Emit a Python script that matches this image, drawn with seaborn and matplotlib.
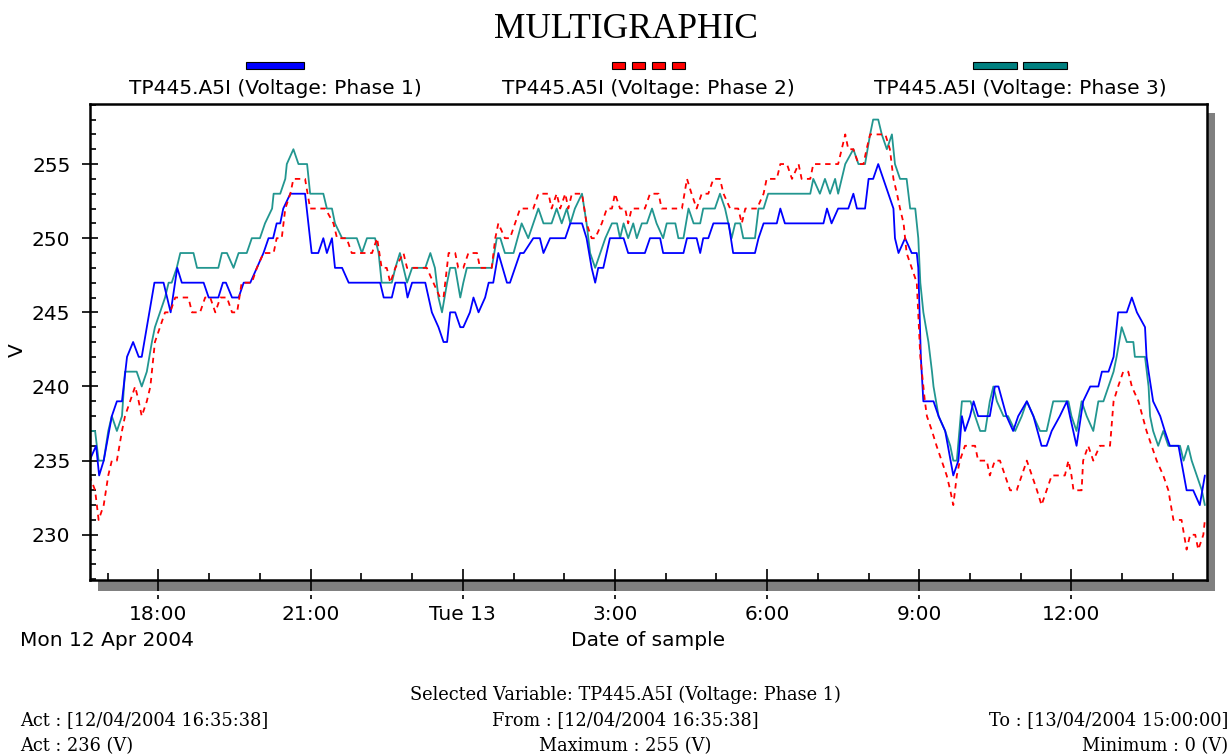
import matplotlib
matplotlib.use("Agg")
import matplotlib.pyplot as plt
from matplotlib.patches import Rectangle
from matplotlib.ticker import MultipleLocator
import pandas as pd
import seaborn as sns

# ---- sample times (hours counted from 00:00 on Mon 12 Apr 2004) and voltages ----
p1_hours = [16.64, 16.77, 16.83, 16.92, 17.08, 17.18, 17.28, 17.38, 17.50, 17.61,
            17.67, 17.77, 17.92, 18.10, 18.24, 18.37, 18.46, 18.89, 18.99, 19.18,
            19.27, 19.33, 19.45, 19.58, 19.68, 19.81, 19.94, 20.07, 20.17, 20.26,
            20.33, 20.40, 20.46, 20.60, 20.89, 21.02, 21.15, 21.25, 21.32, 21.42,
            21.48, 21.62, 21.75, 22.37, 22.44, 22.60, 22.67, 22.86, 22.91, 23.00,
            23.26, 23.39, 23.52, 23.62, 23.69, 23.75, 23.85, 23.95, 24.01, 24.14,
            24.21, 24.31, 24.44, 24.51, 24.60, 24.70, 24.87, 24.93, 25.13, 25.20,
            25.39, 25.52, 25.59, 25.72, 26.02, 26.12, 26.35, 26.44, 26.54, 26.61,
            26.67, 26.77, 26.90, 27.17, 27.26, 27.59, 27.69, 27.89, 27.95, 28.35,
            28.42, 28.61, 28.68, 28.74, 28.84, 28.94, 29.24, 29.33, 29.76, 29.83,
            29.93, 30.19, 30.26, 30.35, 31.11, 31.18, 31.27, 31.40, 31.60, 31.70,
            31.77, 31.93, 32.00, 32.09, 32.19, 32.29, 32.39, 32.49, 32.52, 32.59,
            32.72, 32.85, 32.95, 32.98, 33.03, 33.08, 33.18, 33.28, 33.38, 33.51,
            33.67, 33.77, 33.84, 33.90, 34.00, 34.07, 34.16, 34.39, 34.49, 34.56,
            34.72, 34.85, 34.95, 35.12, 35.25, 35.41, 35.51, 35.61, 35.77, 35.91,
            35.97, 36.10, 36.23, 36.37, 36.53, 36.60, 36.73, 36.83, 36.92, 37.09,
            37.19, 37.29, 37.45, 37.48, 37.52, 37.61, 37.75, 37.84, 37.94, 38.11,
            38.27, 38.40, 38.53, 38.63]
p1_volts = [235, 236, 234, 235, 238, 239, 239, 242, 243, 242,
            242, 244, 247, 247, 245, 248, 247, 247, 246, 246,
            247, 247, 246, 246, 247, 247, 248, 249, 250, 250,
            251, 251, 252, 253, 253, 249, 249, 250, 249, 250,
            248, 248, 247, 247, 246, 246, 247, 247, 246, 247,
            247, 245, 244, 243, 243, 245, 245, 244, 244, 245,
            246, 245, 246, 247, 247, 249, 247, 247, 249, 249,
            250, 250, 249, 250, 250, 251, 251, 250, 248, 247,
            248, 248, 250, 250, 249, 249, 250, 250, 249, 249,
            250, 250, 249, 250, 250, 251, 251, 249, 249, 250,
            251, 251, 252, 251, 251, 252, 251, 252, 252, 253,
            252, 252, 254, 254, 255, 254, 253, 252, 250, 249,
            250, 249, 249, 248, 242, 239, 239, 239, 238, 237,
            234, 235, 238, 237, 238, 239, 238, 238, 240, 240,
            238, 237, 238, 239, 238, 236, 236, 237, 238, 239,
            238, 236, 239, 240, 240, 241, 241, 242, 245, 245,
            246, 245, 244, 242, 241, 239, 238, 237, 236, 236,
            233, 233, 232, 234]

p2_hours = [16.64, 16.75, 16.82, 16.92, 17.01, 17.08, 17.18, 17.28, 17.34, 17.44,
            17.54, 17.61, 17.67, 17.77, 17.84, 17.93, 18.03, 18.13, 18.23, 18.33,
            18.59, 18.66, 18.82, 18.92, 19.02, 19.12, 19.22, 19.35, 19.45, 19.55,
            19.64, 19.84, 19.94, 20.07, 20.27, 20.33, 20.43, 20.50, 20.60, 20.66,
            20.89, 20.99, 21.29, 21.45, 21.52, 21.71, 21.81, 22.21, 22.31, 22.40,
            22.50, 22.57, 22.67, 22.83, 22.90, 23.29, 23.55, 23.62, 23.72, 23.85,
            23.91, 24.01, 24.11, 24.28, 24.34, 24.57, 24.64, 24.70, 24.83, 24.93,
            25.03, 25.13, 25.39, 25.49, 25.69, 25.75, 25.85, 25.92, 26.02, 26.08,
            26.15, 26.35, 26.44, 26.54, 26.61, 26.74, 26.84, 26.94, 27.00, 27.10,
            27.20, 27.26, 27.33, 27.59, 27.69, 27.86, 27.92, 28.32, 28.42, 28.51,
            28.61, 28.71, 28.84, 28.94, 29.07, 29.14, 29.27, 29.43, 29.50, 29.57,
            29.80, 29.93, 29.99, 30.19, 30.26, 30.39, 30.49, 30.62, 30.68, 30.85,
            30.91, 31.40, 31.47, 31.54, 31.60, 31.70, 31.80, 31.90, 31.96, 32.03,
            32.33, 32.42, 32.49, 32.56, 32.62, 32.69, 32.75, 32.85, 32.95, 33.02,
            33.05, 33.11, 33.15, 33.25, 33.34, 33.44, 33.54, 33.61, 33.67, 33.74,
            33.80, 33.90, 34.10, 34.16, 34.33, 34.39, 34.49, 34.59, 34.69, 34.79,
            34.92, 35.02, 35.12, 35.22, 35.32, 35.41, 35.51, 35.61, 35.87, 35.94,
            36.00, 36.04, 36.20, 36.23, 36.33, 36.43, 36.56, 36.76, 36.83, 36.92,
            37.02, 37.12, 37.19, 37.32, 37.48, 37.58, 37.68, 37.81, 37.91, 38.01,
            38.17, 38.27, 38.34, 38.44, 38.50, 38.60, 38.63]
p2_volts = [234, 233, 231, 232, 234, 235, 235, 237, 238, 239,
            240, 239, 238, 239, 240, 243, 244, 245, 245, 246,
            246, 245, 245, 246, 246, 245, 246, 246, 245, 245,
            247, 247, 248, 249, 249, 250, 250, 252, 253, 254,
            254, 252, 252, 251, 250, 250, 249, 249, 250, 248,
            248, 247, 248, 249, 248, 248, 246, 246, 249, 249,
            248, 248, 249, 249, 248, 248, 250, 251, 250, 250,
            251, 252, 252, 253, 253, 252, 253, 252, 253, 252,
            253, 253, 251, 250, 250, 251, 252, 252, 253, 252,
            252, 251, 252, 252, 253, 253, 252, 252, 254, 253,
            252, 253, 253, 254, 254, 253, 252, 252, 251, 252,
            252, 253, 254, 254, 255, 255, 254, 255, 254, 254,
            255, 255, 256, 257, 256, 256, 255, 255, 256, 257,
            257, 256, 254, 253, 252, 251, 249, 248, 247, 242,
            241, 239, 238, 237, 236, 235, 234, 233, 232, 234,
            235, 236, 236, 235, 235, 234, 235, 235, 234, 233,
            233, 234, 235, 234, 233, 232, 233, 234, 234, 235,
            234, 233, 233, 235, 236, 235, 236, 236, 239, 240,
            241, 241, 240, 239, 237, 236, 235, 234, 233, 231,
            231, 229, 230, 230, 229, 230, 231]

p3_hours = [16.64, 16.75, 16.82, 16.92, 17.01, 17.08, 17.18, 17.28, 17.34, 17.57,
            17.67, 17.77, 17.87, 17.93, 18.03, 18.13, 18.20, 18.26, 18.36, 18.43,
            18.69, 18.76, 19.18, 19.25, 19.35, 19.48, 19.58, 19.74, 19.84, 20.00,
            20.10, 20.24, 20.27, 20.40, 20.50, 20.53, 20.66, 20.76, 20.93, 20.99,
            21.25, 21.32, 21.42, 21.48, 21.62, 21.91, 22.01, 22.11, 22.27, 22.34,
            22.40, 22.60, 22.67, 22.76, 22.90, 23.00, 23.26, 23.36, 23.45, 23.52,
            23.59, 23.69, 23.75, 23.85, 23.95, 24.01, 24.08, 24.57, 24.67, 24.74,
            24.83, 25.00, 25.16, 25.29, 25.39, 25.49, 25.59, 25.75, 25.85, 25.95,
            26.05, 26.12, 26.21, 26.35, 26.44, 26.51, 26.61, 26.71, 26.81, 26.94,
            27.04, 27.10, 27.17, 27.26, 27.36, 27.43, 27.53, 27.63, 27.73, 27.82,
            27.95, 28.02, 28.19, 28.25, 28.35, 28.45, 28.55, 28.68, 28.74, 28.97,
            29.07, 29.17, 29.30, 29.37, 29.47, 29.53, 29.76, 29.83, 29.93, 30.02,
            30.85, 30.91, 31.04, 31.14, 31.24, 31.34, 31.40, 31.47, 31.54, 31.70,
            31.80, 31.93, 32.03, 32.09, 32.19, 32.26, 32.36, 32.46, 32.52, 32.62,
            32.75, 32.82, 32.92, 32.98, 33.02, 33.08, 33.18, 33.25, 33.28, 33.38,
            33.51, 33.61, 33.67, 33.74, 33.84, 34.01, 34.10, 34.20, 34.30, 34.39,
            34.46, 34.53, 34.66, 34.75, 34.89, 35.02, 35.12, 35.25, 35.38, 35.51,
            35.64, 35.94, 36.00, 36.10, 36.20, 36.30, 36.43, 36.53, 36.63, 36.73,
            36.83, 36.89, 36.99, 37.09, 37.22, 37.25, 37.45, 37.52, 37.55, 37.61,
            37.71, 37.81, 37.91, 38.14, 38.21, 38.30, 38.37, 38.47, 38.57, 38.63]
p3_volts = [237, 237, 235, 235, 237, 238, 237, 238, 241, 241,
            240, 241, 243, 244, 245, 246, 247, 247, 248, 249,
            249, 248, 248, 249, 249, 248, 249, 249, 250, 250,
            251, 252, 253, 253, 254, 255, 256, 255, 255, 253,
            253, 252, 252, 251, 250, 250, 249, 250, 250, 249,
            247, 247, 248, 249, 247, 248, 248, 249, 248, 246,
            245, 247, 248, 248, 246, 247, 248, 248, 250, 250,
            249, 249, 251, 250, 251, 252, 251, 251, 252, 251,
            252, 251, 252, 253, 251, 249, 248, 249, 250, 251,
            251, 250, 251, 250, 251, 250, 251, 251, 252, 251,
            250, 251, 251, 250, 250, 252, 251, 251, 252, 252,
            253, 252, 250, 251, 251, 250, 250, 252, 252, 253,
            253, 254, 253, 254, 253, 254, 253, 254, 255, 256,
            255, 255, 257, 258, 258, 257, 256, 257, 255, 254,
            254, 252, 252, 250, 247, 245, 243, 241, 240, 238,
            237, 236, 235, 235, 239, 239, 238, 237, 237, 239,
            240, 239, 238, 238, 237, 238, 239, 238, 237, 237,
            239, 239, 238, 237, 239, 238, 237, 239, 239, 240,
            241, 242, 244, 243, 243, 242, 242, 240, 238, 237,
            236, 237, 236, 236, 235, 236, 235, 234, 233, 232]

series_labels = ["TP445.A5I (Voltage: Phase 1)",
                 "TP445.A5I (Voltage: Phase 2)",
                 "TP445.A5I (Voltage: Phase 3)"]
major_hours = [18, 21, 24, 27, 30, 33, 36]
major_labels = ["18:00", "21:00", "Tue 13", "3:00", "6:00", "9:00", "12:00"]
volt_ticks = [230, 235, 240, 245, 250, 255]
window = (16.64, 38.672)
volt_range = (226.95, 259.05)

footer_rows = [
    ("", "Selected Variable: TP445.A5I (Voltage: Phase 1)", ""),
    ("Act : [12/04/2004 16:35:38]", "From : [12/04/2004 16:35:38]", "To : [13/04/2004 15:00:00]"),
    ("Act : 236 (V)", "Maximum : 255 (V)", "Minimum : 0 (V)"),
]

BLUE, RED, TEAL = "#0000ff", "#ff0000", "#229690"
LABEL_SIZE = 14.5

sns.set_style("white")
plt.rcParams["font.family"] = ["DejaVu Sans"]
plt.rcParams["text.color"] = "black"
plt.rcParams["axes.labelcolor"] = "black"
plt.rcParams["xtick.color"] = "black"
plt.rcParams["ytick.color"] = "black"

W, H = 1231, 756
fig = plt.figure(figsize=(W / 100, H / 100), dpi=100)
fig.patch.set_facecolor("white")


def fx(px):
    return px / W


def fy(py):
    return 1 - py / H


# grey drop shadow behind the plotting frame
fig.add_artist(Rectangle((fx(98), fy(591)), (1215 - 98) / W, (591 - 113) / H,
                         transform=fig.transFigure, facecolor="#808080",
                         edgecolor="none", zorder=-5))

ax = fig.add_axes([fx(89.5), fy(580), (1207 - 89.5) / W, (580 - 104) / H])
ax.set_facecolor("white")

frames = [
    pd.DataFrame({"hour": p1_hours, "volt": p1_volts}),
    pd.DataFrame({"hour": p2_hours, "volt": p2_volts}),
    pd.DataFrame({"hour": p3_hours, "volt": p3_volts}),
]
colors = [BLUE, RED, TEAL]
for df, c in zip(frames, colors):
    sns.lineplot(data=df, x="hour", y="volt", ax=ax, color=c, lw=1.3,
                 estimator=None, sort=False, legend=False)
ax.lines[1].set_dashes([3.0, 2.6])
ax.lines[2].set_zorder(1.9)

ax.set_xlim(*window)
ax.set_ylim(*volt_range)
ax.set_xlabel("")
ax.set_ylabel("")
ax.grid(False)

ax.set_xticks(major_hours)
ax.set_xticklabels(major_labels)
ax.xaxis.set_minor_locator(MultipleLocator(1))
ax.set_yticks(volt_ticks)
ax.set_yticklabels([str(v) for v in volt_ticks])
ax.yaxis.set_minor_locator(MultipleLocator(1))

ax.tick_params(axis="x", which="major", direction="inout", length=16, width=1.2,
               pad=10, labelsize=LABEL_SIZE, colors="black", bottom=True)
ax.tick_params(axis="x", which="minor", direction="in", length=5, width=1.2,
               bottom=True)
ax.tick_params(axis="y", which="major", direction="inout", length=11.5, width=1.2,
               pad=8, labelsize=LABEL_SIZE, colors="black", left=True)
ax.tick_params(axis="y", which="minor", direction="in", length=4.3, width=1.2,
               left=True)
for side in ["left", "right", "top", "bottom"]:
    ax.spines[side].set_visible(True)
    ax.spines[side].set_color("black")
    ax.spines[side].set_linewidth(1.8)

# small tick echoes below the shadow band
ax.vlines(major_hours, -0.0315, -0.040, transform=ax.get_xaxis_transform(),
          clip_on=False, color="black", lw=1.2)

# axis texts
fig.text(fx(20), fy(641), "Mon 12 Apr 2004", ha="left", va="center", size=LABEL_SIZE)
fig.text(fx(648), fy(641), "Date of sample", ha="center", va="center", size=LABEL_SIZE)
fig.text(fx(17), fy(350), "V", ha="center", va="center", rotation=90, size=LABEL_SIZE)

# title
fig.text(fx(626), fy(29), "MULTIGRAPHIC", ha="center", va="center",
         family="Liberation Serif", size=25.5)

# legend: swatch above each label
legend_centers = [275, 648, 1020]
sw_top, sw_h = 62, 7
fig.add_artist(Rectangle((fx(246), fy(sw_top + sw_h)), 58 / W, sw_h / H,
                         transform=fig.transFigure, facecolor=BLUE,
                         edgecolor="black", lw=0.8))
for i in range(4):
    fig.add_artist(Rectangle((fx(612 + i * 20), fy(sw_top + sw_h)), 13 / W, sw_h / H,
                             transform=fig.transFigure, facecolor=RED,
                             edgecolor="black", lw=0.8))
for i in range(2):
    fig.add_artist(Rectangle((fx(973 + i * 50), fy(sw_top + sw_h)), 44 / W, sw_h / H,
                             transform=fig.transFigure, facecolor="#008080",
                             edgecolor="black", lw=0.8))
for cx, lab in zip(legend_centers, series_labels):
    fig.text(fx(cx), fy(88), lab, ha="center", va="center", size=LABEL_SIZE)

# footer information block
row_y = [695, 720, 746]
for yy, (left, mid, right) in zip(row_y, footer_rows):
    if left:
        fig.text(fx(20), fy(yy), left, ha="left", va="center",
                 family="DejaVu Serif", size=12.8)
    if mid:
        fig.text(fx(625), fy(yy), mid, ha="center", va="center",
                 family="DejaVu Serif", size=12.8)
    if right:
        fig.text(fx(1228), fy(yy), right, ha="right", va="center",
                 family="DejaVu Serif", size=12.8)

fig.savefig("out.png", dpi=100, facecolor="white")
